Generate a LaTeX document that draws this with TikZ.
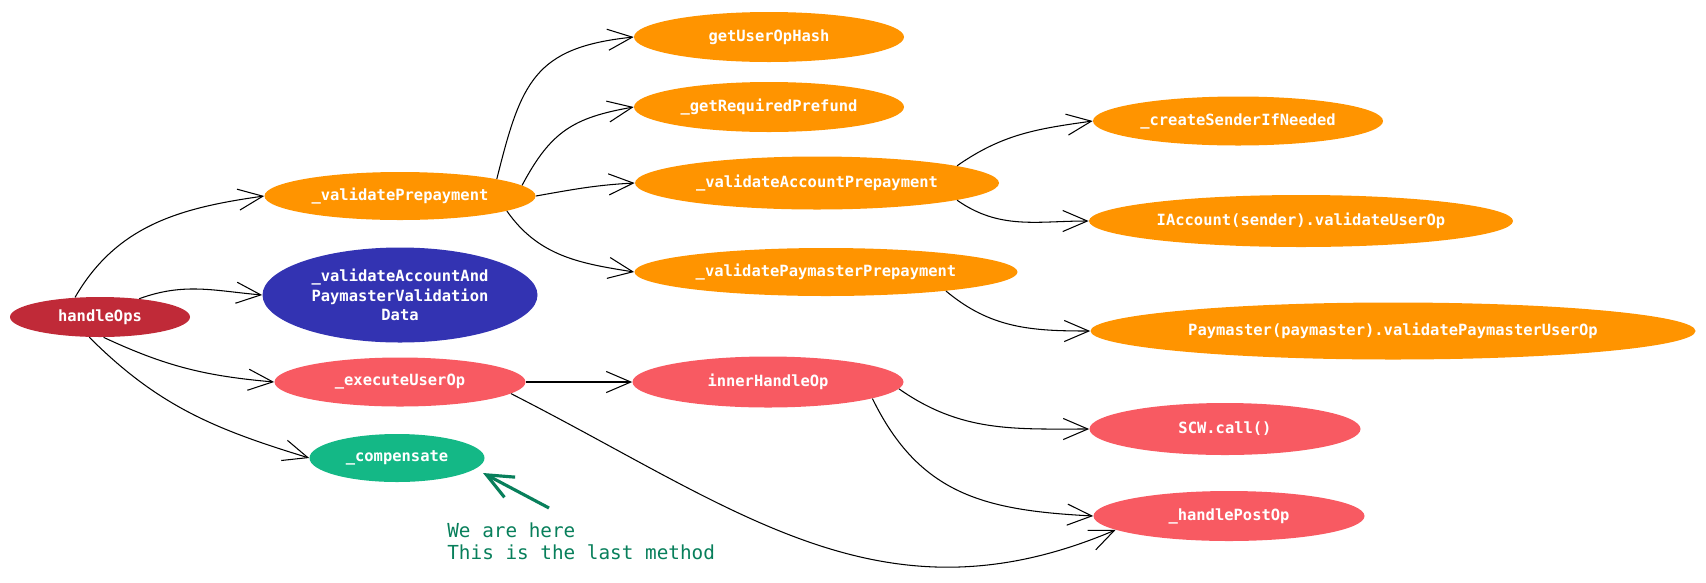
\documentclass[tikz,border=0pt]{standalone}
\usepackage{fontspec}
\setmonofont{DejaVu Sans Mono}
\usetikzlibrary{arrows.meta,shapes.geometric}
\definecolor{hred}{RGB}{192,42,56}
\definecolor{orng}{RGB}{255,148,0}
\definecolor{indg}{RGB}{51,51,178}
\definecolor{salm}{RGB}{248,90,98}
\definecolor{mint}{RGB}{20,184,134}
\definecolor{tealg}{RGB}{8,127,91}

\begin{document}
\begin{tikzpicture}[
        x=0.02cm, y=-0.02cm,
        fn/.style={ellipse, draw=none, inner sep=0pt, text=white, align=center,
            font=\ttfamily\bfseries\fontsize{8.8}{11.1}\selectfont},
        sz/.style 2 args={minimum width=#1*0.02cm, minimum height=#2*0.02cm},
        call/.style={-{Straight Barb[length=14pt,width=12pt]}, line width=0.6pt},
        note/.style={font=\ttfamily\fontsize{11}{13}\selectfont, text=tealg, align=left, inner sep=0pt},
    ]
        \useasboundingbox (0,0) rectangle (1706,582);

        % Entry point
        \node[fn, sz={180}{40}, fill=hred] (HOPS) at (100,317) {handleOps};

        % First level calls
        \node[fn, sz={271}{48}, fill=orng] (VPRE) at (400,196) {\_validatePrepayment};
        \node[fn, sz={275}{95}, fill=indg] (VAPD) at (400,295) {\_validateAccountAnd\\PaymasterValidation\\Data};
        \node[fn, sz={251}{49}, fill=salm] (EXEC) at (400,382) {\_executeUserOp};
        \node[fn, sz={175}{48}, fill=mint] (COMP) at (397,458) {\_compensate};

        % Validation branch
        \node[fn, sz={270}{50}, fill=orng] (HASH) at (769,37) {getUserOpHash};
        \node[fn, sz={270}{50}, fill=orng] (PREF) at (769,107) {\_getRequiredPrefund};
        \node[fn, sz={364}{53}, fill=orng] (VACC) at (817,183) {\_validateAccountPrepayment};
        \node[fn, sz={383}{48}, fill=orng] (VPAY) at (826,272) {\_validatePaymasterPrepayment};
        \node[fn, sz={290}{49}, fill=orng] (CSND) at (1238,121) {\_createSenderIfNeeded};
        \node[fn, sz={424}{52}, fill=orng] (IACC) at (1301,221) {IAccount(sender).validateUserOp};
        \node[fn, sz={605}{57}, fill=orng] (PMV) at (1393,331) {Paymaster(paymaster).validatePaymasterUserOp};

        % Execution branch
        \node[fn, sz={271}{51}, fill=salm] (INNER) at (768,382) {innerHandleOp};
        \node[fn, sz={271}{52}, fill=salm] (SCW) at (1225,429) {SCW.call()};
        \node[fn, sz={271}{50}, fill=salm] (POST) at (1229,516) {\_handlePostOp};

        % Calls from handleOps
        \draw[call] (HOPS.142) to[out=60, in=188] (VPRE.west);
        \draw[call] (HOPS.25) to[out=20, in=175] (VAPD.west);
        \draw[call] (HOPS.-80) to[out=-25, in=175] (EXEC.west);
        \draw[call] (HOPS.-118) to[out=-45, in=163] (COMP.west);

        % Calls from _validatePrepayment
        \draw[call] (VPRE.10) to[out=76, in=186, looseness=1.3] (HASH.west);
        \draw[call] (VPRE.5) to[out=62, in=190, looseness=1.15] (PREF.west);
        \draw[call] (VPRE.east) to[out=10, in=183] (VACC.west);
        \draw[call] (VPRE.-8) to[out=-55, in=171] (VPAY.west);

        \draw[call] (VACC.7) to[out=35, in=188] (CSND.west);
        \draw[call] (VACC.-7) to[out=-35, in=180] (IACC.west);
        \draw[call] (VPAY.-9) to[out=-40, in=180] (PMV.west);

        % Calls from _executeUserOp
        \draw[call] (EXEC.east) -- (INNER.west);
        \draw[call] (EXEC.-6) to[out=-27, in=203, looseness=1.05] (POST.187);
        \draw[call] (INNER.-3) to[out=-35, in=180] (SCW.west);
        \draw[call] (INNER.-9) to[out=-64, in=177, looseness=1.1] (POST.west);

        % Annotation
        \coordinate (NTAIL) at (549,508);
        \coordinate (NTIP) at (483,473);
        \draw[-{Straight Barb[length=15pt,width=13pt]}, line width=1.8pt, draw=tealg] (NTAIL) -- (NTIP);
        \node[note, anchor=north west] (NOTE) at (447,522) {We are here\\This is the last method};
    \end{tikzpicture}
\end{document}
